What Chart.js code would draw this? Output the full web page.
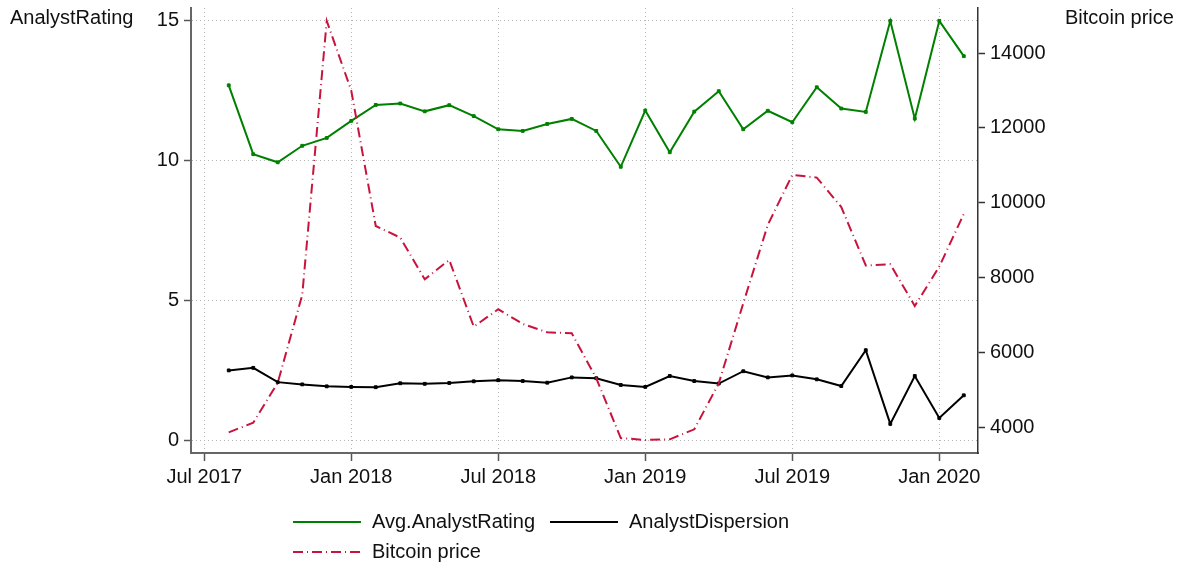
<!DOCTYPE html>
<html>
<head>
<meta charset="utf-8">
<script src="https://cdn.jsdelivr.net/npm/chart.js@4"></script>
<style>
body { margin: 0; background: #fff; }
#wrap { width: 1189px; height: 567px; }
</style>
</head>
<body>
<div id="wrap"><canvas id="chart" width="1189" height="567"></canvas></div>
<script>
// monthly data, Aug 2017 - Feb 2020
const months = ['2017-08','2017-09','2017-10','2017-11','2017-12',
  '2018-01','2018-02','2018-03','2018-04','2018-05','2018-06','2018-07','2018-08','2018-09','2018-10','2018-11','2018-12',
  '2019-01','2019-02','2019-03','2019-04','2019-05','2019-06','2019-07','2019-08','2019-09','2019-10','2019-11','2019-12',
  '2020-01','2020-02'];

const avgRating = [12.70,10.24,9.95,10.54,10.82,
  11.43,12.00,12.05,11.77,11.99,11.60,11.13,11.07,11.32,11.50,11.07,9.79,
  11.80,10.31,11.76,12.49,11.13,11.79,11.38,12.63,11.87,11.75,15.00,11.51,
  15.00,13.74];

const dispersion = [2.52,2.61,2.10,2.02,1.95,
  1.93,1.92,2.06,2.04,2.07,2.13,2.17,2.14,2.08,2.27,2.24,2.00,
  1.93,2.32,2.14,2.05,2.49,2.27,2.34,2.20,1.96,3.24,0.61,2.32,
  0.82,1.63];

const bitcoin = [3877,4133,5200,7543,14859,
  13000,9385,9073,7962,8478,6697,7161,6769,6547,6520,5320,3725,
  3672,3690,3957,5185,7321,9412,10747,10675,9890,8330,8363,7249,
  8299,9706];

// ticks (x = months since Jul 2017)
const xTicks = [0,6,12,18,24,30];
const xTickLabels = ['Jul 2017','Jan 2018','Jul 2018','Jan 2019','Jul 2019','Jan 2020'];
const leftTicks = [0,5,10,15];
const rightTicks = [4000,6000,8000,10000,12000,14000];

const FONT = 'Liberation Sans, Arial, Helvetica, sans-serif';
const GREEN = '#008000';
const RED = '#c8143c';
const DASHDOT = [10,4,1,4];

function monthIndex(m) {
  const p = m.split('-');
  return (parseInt(p[0]) - 2017) * 12 + (parseInt(p[1]) - 7);
}
function toPoints(vals) {
  return vals.map((v, i) => ({x: monthIndex(months[i]), y: v}));
}
// keep the plot area fixed, labels may overhang
function noPad(s) {
  s.paddingTop = 0; s.paddingBottom = 0; s.paddingLeft = 0; s.paddingRight = 0;
}

const extras = {
  id: 'extras',
  afterDraw(chart) {
    const ctx = chart.ctx;
    ctx.save();
    ctx.font = '20px ' + FONT;
    ctx.fillStyle = '#111';
    ctx.textBaseline = 'middle';
    ctx.textAlign = 'left';
    ctx.fillText('AnalystRating', 10, 18);
    ctx.fillText('Bitcoin price', 1065, 18);

    const items = [
      {x: 293, y: 522, color: GREEN, dash: [], label: 'Avg.AnalystRating'},
      {x: 550, y: 522, color: '#000', dash: [], label: 'AnalystDispersion'},
      {x: 293, y: 552, color: RED, dash: DASHDOT, label: 'Bitcoin price'}
    ];
    items.forEach(it => {
      ctx.beginPath();
      ctx.strokeStyle = it.color;
      ctx.lineWidth = 2;
      ctx.setLineDash(it.dash);
      ctx.moveTo(it.x, it.y);
      ctx.lineTo(it.x + 68, it.y);
      ctx.stroke();
      ctx.setLineDash([]);
      ctx.fillText(it.label, it.x + 79, it.y);
    });
    ctx.restore();
  }
};

new Chart(document.getElementById('chart'), {
  type: 'line',
  data: {
    datasets: [
      {
        label: 'Avg.AnalystRating',
        data: toPoints(avgRating),
        yAxisID: 'y',
        borderColor: GREEN,
        backgroundColor: GREEN,
        borderWidth: 2,
        pointStyle: 'rect',
        pointRadius: 2,
        pointBorderWidth: 1,
        tension: 0,
        order: 2
      },
      {
        label: 'AnalystDispersion',
        data: toPoints(dispersion),
        yAxisID: 'y',
        borderColor: '#000',
        backgroundColor: '#000',
        borderWidth: 2,
        pointStyle: 'rect',
        pointRadius: 2,
        pointBorderWidth: 1,
        tension: 0,
        order: 1
      },
      {
        label: 'Bitcoin price',
        data: toPoints(bitcoin),
        yAxisID: 'y2',
        borderColor: RED,
        backgroundColor: RED,
        borderWidth: 2,
        borderDash: DASHDOT,
        pointRadius: 0,
        tension: 0,
        order: 0
      }
    ]
  },
  options: {
    responsive: false,
    animation: false,
    devicePixelRatio: 1,
    layout: {padding: {top: 8, left: 0, right: 0, bottom: 0}},
    plugins: {
      legend: {display: false},
      tooltip: {enabled: false}
    },
    scales: {
      x: {
        type: 'linear',
        position: 'bottom',
        min: -0.54,
        max: 31.58,
        afterBuildTicks: s => { s.ticks = xTicks.map(v => ({value: v})); },
        afterFit: s => { s.height = 114; noPad(s); },
        ticks: {
          callback: v => xTickLabels[xTicks.indexOf(v)],
          autoSkip: false,
          maxRotation: 0,
          padding: 4,
          color: '#111',
          font: {family: FONT, size: 20}
        },
        grid: {color: '#b5b5b5', lineWidth: 1, tickColor: '#555', tickLength: 8, tickWidth: 1.5},
        border: {color: '#666', width: 2, dash: [1,3]}
      },
      y: {
        position: 'left',
        min: -0.43,
        max: 15.46,
        afterBuildTicks: s => { s.ticks = leftTicks.map(v => ({value: v})); },
        afterFit: s => { s.width = 191; noPad(s); },
        ticks: {
          padding: 5,
          color: '#111',
          font: {family: FONT, size: 20}
        },
        grid: {color: '#b5b5b5', lineWidth: 1, tickColor: '#555', tickLength: 7, tickWidth: 1.5},
        border: {color: '#666', width: 2, dash: [1,3]}
      },
      y2: {
        position: 'right',
        min: 3325,
        max: 15202,
        afterBuildTicks: s => { s.ticks = rightTicks.map(v => ({value: v})); },
        afterFit: s => { s.width = 211; noPad(s); },
        ticks: {
          callback: v => String(v),
          padding: 5,
          color: '#111',
          font: {family: FONT, size: 20}
        },
        grid: {drawOnChartArea: false, tickColor: '#333', tickLength: 7, tickWidth: 1.5},
        border: {color: '#333', width: 1.5}
      }
    }
  },
  plugins: [extras]
});
</script>
</body>
</html>
